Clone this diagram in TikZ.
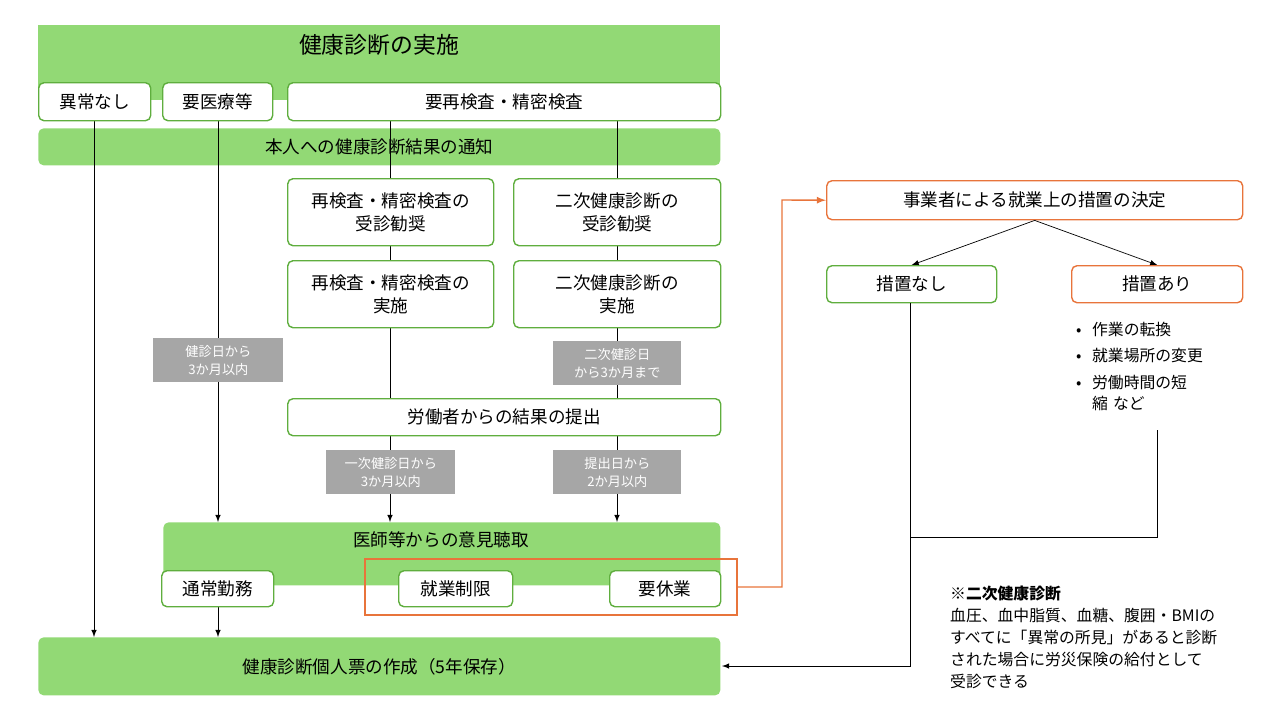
\documentclass[tikz,border=0pt]{standalone}
\usepackage{fontspec}
\setmainfont{Noto Sans CJK JP}
\usetikzlibrary{positioning}
\definecolor{kgreen}{HTML}{92D975}
\definecolor{kbord}{HTML}{5FAE3E}
\definecolor{korange}{HTML}{E8743B}
\definecolor{kgray}{HTML}{A6A6A6}
\tikzset{
  box/.style={draw=kbord, thick, fill=white, rounded corners=3pt, align=center, font=\fontsize{10}{13}\selectfont},
  obox/.style={box, draw=korange},
  band/.style={fill=kgreen, rounded corners=3pt, align=center, font=\fontsize{10}{13}\selectfont},
  tag/.style={fill=kgray, text=white, align=center, font=\fontsize{7.5}{10}\selectfont},
  flow/.style={-latex},
}
\newcommand{\rbox}[6]{\node[#1, minimum width=(#4-#2)*0.02cm, minimum height=(#5-#3)*0.02cm, anchor=north west, inner sep=1pt] (#6) at (#2,#3)}
\begin{document}
\begin{tikzpicture}[x=0.02cm, y=-0.02cm]
\useasboundingbox (0,0) rectangle (1280,720);
% top block
\fill[kgreen] (38,25) rectangle (720,100);
\node[font=\fontsize{13}{15}\selectfont] (title) at (379,45) {健康診断の実施};
\rbox{band}{38}{128}{720}{165}{notice} {本人への健康診断結果の通知};
\rbox{band}{163}{522}{720}{585}{hear} {};
\node[font=\fontsize{10}{13}\selectfont] (heartxt) at (441,540) {医師等からの意見聴取};
\rbox{band}{38}{637}{720}{695}{record} {健康診断個人票の作成（5年保存）};
% vertical connectors behind boxes
\coordinate (a1) at (94,120);   \coordinate (a2) at (94,637);
\coordinate (b1) at (218,120);  \coordinate (b2) at (218,522);
\coordinate (b3) at (218,606);  \coordinate (b4) at (218,637);
\coordinate (c1) at (390,120);  \coordinate (c2) at (390,522);
\coordinate (d1) at (617,120);  \coordinate (d2) at (617,522);
\draw[flow] (a1) -- (a2);
\draw[flow] (b1) -- (b2);
\draw[flow] (b3) -- (b4);
\draw[flow] (c1) -- (c2);
\draw[flow] (d1) -- (d2);
% boxes
\rbox{box}{38}{82}{150}{120}{ok} {異常なし};
\rbox{box}{162}{82}{272}{120}{med} {要医療等};
\rbox{box}{287}{82}{720}{120}{recheck} {要再検査・精密検査};
\rbox{box}{287}{178}{493}{245}{rec1} {再検査・精密検査の\\受診勧奨};
\rbox{box}{513}{178}{720}{245}{sec1} {二次健康診断の\\受診勧奨};
\rbox{box}{287}{260}{493}{327}{rec2} {再検査・精密検査の\\実施};
\rbox{box}{513}{260}{720}{327}{sec2} {二次健康診断の\\実施};
\rbox{box}{287}{398}{720}{435}{submit} {労働者からの結果の提出};
\rbox{tag}{153}{338}{283}{382}{t1} {健診日から\\3か月以内};
\rbox{tag}{553}{341}{681}{385}{t2} {二次健診日\\から3か月まで};
\rbox{tag}{326}{450}{455}{494}{t3} {一次健診日から\\3か月以内};
\rbox{tag}{553}{450}{681}{494}{t4} {提出日から\\2か月以内};
\rbox{box}{161}{570}{273}{606}{normal} {通常勤務};
\rbox{box}{398}{570}{512}{606}{limit} {就業制限};
\rbox{box}{609}{570}{720}{606}{rest} {要休業};
\draw[korange, thick] (365,559) rectangle (737,615);
% right side
\rbox{obox}{826}{180}{1242}{219}{decide} {事業者による就業上の措置の決定};
\rbox{box}{826}{265}{996}{302}{none} {措置なし};
\rbox{obox}{1071}{265}{1242}{302}{measure} {措置あり};
\node[anchor=north west, align=left, text width=3cm, font=\fontsize{9}{12}\selectfont] (list) at (1070,316)
  {\textbullet\ \ 作業の転換\\[3pt]\textbullet\ \ 就業場所の変更\\[3pt]\textbullet\ \ 労働時間の短\\\ \ \ 縮 など};
\coordinate (o1) at (737,587); \coordinate (o2) at (782,587); \coordinate (o3) at (782,200);
\draw[korange, thick, -latex] (o1) -- (o2) -- (o3) -- (decide.west);
\draw[flow] (decide.south) -- (none.north);
\draw[flow] (decide.south) -- (measure.north);
\coordinate (m1) at (1157,430); \coordinate (m2) at (1157,537); \coordinate (m3) at (910,537);
\coordinate (n2) at (910,666); \coordinate (n3) at (722,666);
\draw (m1) -- (m2) -- (m3);
\draw[flow] (none.south -| n2) -- (n2) -- (n3);
\node[anchor=north west, align=left, font=\fontsize{9}{12.5}\selectfont] (note) at (944,580)
  {\textbf{※二次健康診断}\\血圧、血中脂質、血糖、腹囲・BMIの\\すべてに「異常の所見」があると診断\\された場合に労災保険の給付として\\受診できる};
\end{tikzpicture}
\end{document}
